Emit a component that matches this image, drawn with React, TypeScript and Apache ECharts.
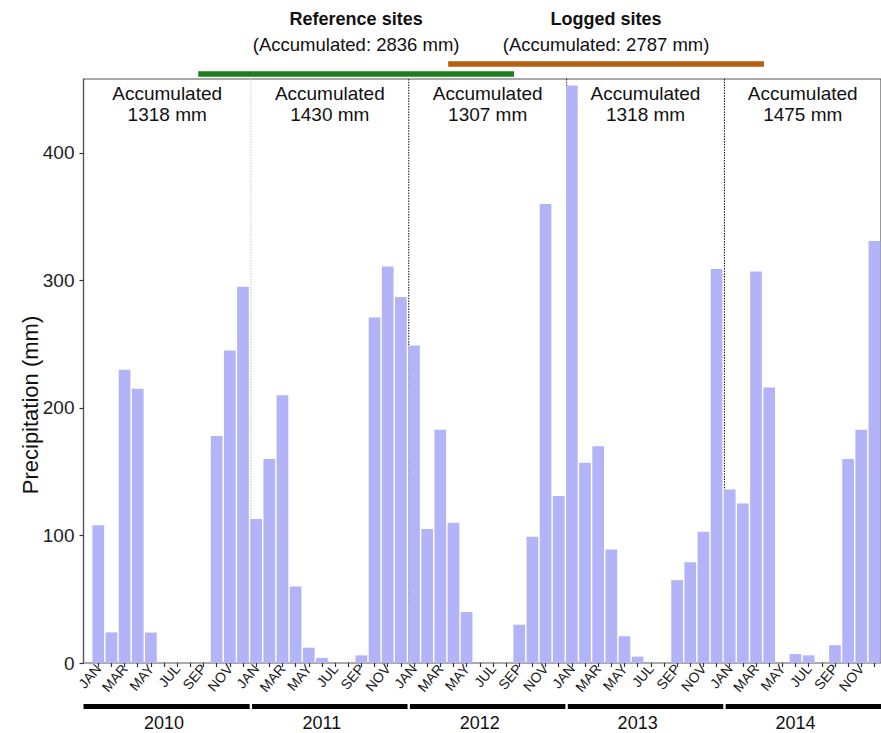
import React, { useEffect, useRef } from "react";
import * as echarts from "echarts";

// ---------------- data ----------------
const YEARS = ["2010", "2011", "2012", "2013", "2014"];
const MONTHS = ["JAN", "FEB", "MAR", "APR", "MAY", "JUN", "JUL", "AUG", "SEP", "OCT", "NOV", "DEC"];
const PRECIP_2010 = [108, 24, 230, 215, 24, 0, 0, 0, 0, 178, 245, 295];
const PRECIP_2011 = [113, 160, 210, 60, 12, 4, 0, 0, 6, 271, 311, 287];
const PRECIP_2012 = [249, 105, 183, 110, 40, 0, 0, 0, 30, 99, 360, 131];
const PRECIP_2013 = [453, 157, 170, 89, 21, 5, 0, 0, 65, 79, 103, 309];
const PRECIP_2014 = [136, 125, 307, 216, 0, 7, 6, 0, 14, 160, 183, 331];
const ACCUMULATED = [1318, 1430, 1307, 1318, 1475];
const Y_TICKS = [0, 100, 200, 300, 400];
const PERIOD_NAMES = ["Reference sites", "Logged sites"];
const PERIOD_TOTALS = [2836, 2787];
const PERIOD_START = [8, 27]; // first month index (0 = JAN 2010)
const PERIOD_END = [32, 51]; // month index after the period
const PERIOD_COLORS = ["#1d7d1d", "#b5600f"];

// ---------------- layout / style ----------------
const W = 881;
const H = 733;
const FRAME_LEFT = 83.5;
const BAR_LEFT = 91.7;
const PLOT_TOP = 79;
const PLOT_BOTTOM = 70;
const Y_MAX = 458;
const SHIFT = -0.4; // month boundary relative to bar centre
const FONT = "'Liberation Sans', Arial, Helvetica, sans-serif";
const BAR_COLOR = "#b3b3f8";
const PERIOD_BAR_Y = [74, 64];

const ALL_VALUES = [PRECIP_2010, PRECIP_2011, PRECIP_2012, PRECIP_2013, PRECIP_2014].flat();
const CATEGORIES = YEARS.flatMap((y) => MONTHS.map((m) => `${m} ${y}`));
const N = CATEGORIES.length;

export default function App() {
  const ref = useRef<HTMLDivElement>(null);

  useEffect(() => {
    document.body.style.margin = "0";
    const chart = echarts.init(ref.current!, undefined, { renderer: "svg", width: W, height: H });

    const boundaries = YEARS.slice(1).map((_, i) => [(i + 1) * 12, 0]);

    const option: any = {
      animation: false,
      backgroundColor: "#ffffff",
      textStyle: { fontFamily: FONT },
      grid: [
        {
          left: FRAME_LEFT,
          right: -30,
          top: PLOT_TOP,
          bottom: PLOT_BOTTOM,
          show: true,
          borderColor: "#555",
          borderWidth: 1.2,
          backgroundColor: "transparent",
        },
        { left: BAR_LEFT, right: -1.3, top: PLOT_TOP, bottom: PLOT_BOTTOM },
      ],
      xAxis: [
        { gridIndex: 0, type: "value", min: 0, max: 1, show: false },
        {
          gridIndex: 1,
          type: "category",
          data: CATEGORIES,
          boundaryGap: true,
          axisLine: { show: false },
          axisTick: { show: true, interval: 0, alignWithLabel: true, length: 4, lineStyle: { color: "#333", width: 1.2 } },
          axisLabel: {
            interval: 1,
            rotate: 50,
            margin: 3,
            fontSize: 14,
            color: "#1a1a1a",
            fontFamily: FONT,
            hideOverlap: false,
            formatter: (v: string) => v.split(" ")[0],
          },
          splitLine: { show: false },
        },
        { gridIndex: 1, type: "value", min: -0.5, max: N - 0.5, show: false },
      ],
      yAxis: [
        {
          gridIndex: 0,
          type: "value",
          min: 0,
          max: Y_MAX,
          interval: 100,
          axisLine: { show: true, lineStyle: { color: "#555", width: 1.2 } },
          axisTick: { show: true, length: 4, customValues: Y_TICKS, lineStyle: { color: "#333", width: 1.2 } },
          axisLabel: {
            customValues: Y_TICKS,
            margin: 9,
            fontSize: 19,
            color: "#222",
            fontFamily: FONT,
            formatter: (v: number) => (Y_TICKS.includes(v) ? String(v) : ""),
          },
          splitLine: { show: false },
        },
        { gridIndex: 1, type: "value", min: 0, max: Y_MAX, show: false },
      ],
      series: [
        {
          type: "bar",
          xAxisIndex: 1,
          yAxisIndex: 1,
          data: ALL_VALUES,
          barCategoryGap: "11%",
          itemStyle: { color: BAR_COLOR },
          silent: true,
        },
        // year dividers
        {
          type: "custom",
          xAxisIndex: 2,
          yAxisIndex: 1,
          silent: true,
          data: boundaries,
          renderItem: (params: any, api: any) => {
            const v = api.value(0) + SHIFT;
            const top = api.coord([v, Y_MAX]);
            const bot = api.coord([v, 0]);
            return {
              type: "line",
              shape: { x1: top[0], y1: top[1], x2: bot[0], y2: bot[1] },
              style: {
                stroke: params.dataIndex === 0 ? "#cfcfcf" : "#222",
                lineWidth: 1.1,
                lineDash: [1.5, 1.2],
              },
            };
          },
        },
        // year bars + labels below axis
        {
          type: "custom",
          xAxisIndex: 2,
          yAxisIndex: 1,
          silent: true,
          data: YEARS.map((_, i) => [i * 12, 0]),
          renderItem: (params: any, api: any) => {
            const k = params.dataIndex;
            const start = api.value(0);
            const zero = api.coord([start, 0])[1];
            const x1 = k === 0 ? FRAME_LEFT : api.coord([start + SHIFT, 0])[0] + 1.2;
            const x2 = k === YEARS.length - 1 ? api.getWidth() : api.coord([start + 12 + SHIFT, 0])[0] - 1.2;
            const cx = api.coord([start + 5, 0])[0];
            return {
              type: "group",
              children: [
                { type: "rect", shape: { x: x1, y: zero + 41, width: x2 - x1, height: 5 }, style: { fill: "#000" } },
                {
                  type: "text",
                  x: cx,
                  y: zero + 60,
                  style: { text: YEARS[k], fill: "#111", fontSize: 18, fontFamily: FONT, align: "center", verticalAlign: "middle" },
                },
              ],
            };
          },
        },
        // accumulated labels per panel
        {
          type: "custom",
          xAxisIndex: 2,
          yAxisIndex: 1,
          silent: true,
          data: YEARS.map((_, i) => [i * 12, 0]),
          renderItem: (params: any, api: any) => {
            const k = params.dataIndex;
            const start = api.value(0);
            const top = api.coord([start, Y_MAX])[1];
            const x1 = k === 0 ? FRAME_LEFT : api.coord([start + SHIFT, 0])[0];
            const x2 = k === YEARS.length - 1 ? api.coord([N - 0.5, 0])[0] : api.coord([start + 12 + SHIFT, 0])[0];
            return {
              type: "text",
              x: (x1 + x2) / 2,
              y: top + 25,
              style: {
                text: `Accumulated\n${ACCUMULATED[k]} mm`,
                fill: "#111",
                fontSize: 19,
                lineHeight: 21,
                fontFamily: FONT,
                align: "center",
                verticalAlign: "middle",
              },
            };
          },
        },
        // period bars + titles
        {
          type: "custom",
          xAxisIndex: 2,
          yAxisIndex: 1,
          silent: true,
          data: PERIOD_START.map((s, i) => [s, PERIOD_END[i]]),
          renderItem: (params: any, api: any) => {
            const k = params.dataIndex;
            const x1 = api.coord([api.value(0) + SHIFT, 0])[0];
            const x2 = api.coord([api.value(1) + SHIFT, 0])[0];
            const cx = (x1 + x2) / 2;
            return {
              type: "group",
              children: [
                {
                  type: "rect",
                  shape: { x: x1, y: PERIOD_BAR_Y[k] - 2.75, width: x2 - x1, height: 5.5 },
                  style: { fill: PERIOD_COLORS[k] },
                },
                {
                  type: "text",
                  x: cx,
                  y: 19,
                  style: {
                    text: PERIOD_NAMES[k],
                    fill: "#111",
                    fontSize: 18,
                    fontWeight: "bold",
                    fontFamily: FONT,
                    align: "center",
                    verticalAlign: "middle",
                  },
                },
                {
                  type: "text",
                  x: cx,
                  y: 44,
                  style: {
                    text: `(Accumulated: ${PERIOD_TOTALS[k]} mm)`,
                    fill: "#111",
                    fontSize: 18.5,
                    fontFamily: FONT,
                    align: "center",
                    verticalAlign: "middle",
                  },
                },
              ],
            };
          },
        },
      ],
      graphic: [
        {
          type: "text",
          x: 30,
          y: 405,
          rotation: Math.PI / 2,
          style: {
            text: "Precipitation (mm)",
            fill: "#111",
            fontSize: 22,
            fontFamily: FONT,
            align: "center",
            verticalAlign: "middle",
          },
        },
      ],
    };

    chart.setOption(option);
    return () => chart.dispose();
  }, []);

  return (
    <div style={{ position: "fixed", left: 0, top: 0, width: W, height: H, overflow: "hidden", background: "#fff" }}>
      <div ref={ref} style={{ width: W, height: H }} />
    </div>
  );
}
